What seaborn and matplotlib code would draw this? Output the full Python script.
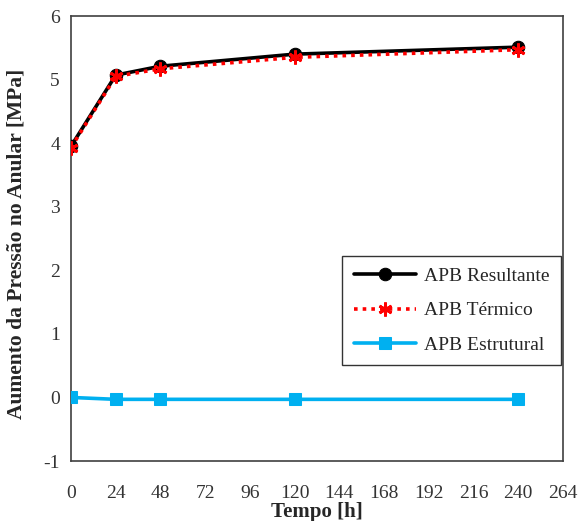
import matplotlib
matplotlib.use("Agg")
import matplotlib.pyplot as plt
import seaborn as sns
import pandas as pd

tempo = [0, 24, 48, 120, 240]
apb_resultante = [3.95, 5.07, 5.21, 5.40, 5.51]
apb_termico = [3.93, 5.05, 5.17, 5.35, 5.47]
apb_estrutural = [0.0, -0.03, -0.03, -0.03, -0.03]
x_ticks = [0, 24, 48, 72, 96, 120, 144, 168, 192, 216, 240, 264]
y_ticks = [-1, 0, 1, 2, 3, 4, 5, 6]

sns.set_theme(style="white")
plt.rcParams['font.family'] = ['Liberation Serif', 'DejaVu Serif']
plt.rcParams['axes.unicode_minus'] = False

fig = plt.figure(figsize=(5.82, 5.21), dpi=100)
ax = fig.add_axes([71/582, 1-461/521, (563-71)/582, (461-16)/521])

sns.lineplot(x=tempo, y=apb_resultante, ax=ax, color='black', lw=2.6,
             marker='o', markersize=9, markeredgecolor='black',
             label='APB Resultante', zorder=3)
sns.lineplot(x=tempo, y=apb_termico, ax=ax, color='red', lw=2.6,
             linestyle=(0, (1, 1.4)), marker=(6, 2, 0), markersize=10,
             markeredgecolor='red', markeredgewidth=2,
             label='APB Térmico', zorder=4)
sns.lineplot(x=tempo, y=apb_estrutural, ax=ax, color='#00B0F0', lw=2.6,
             marker='s', markersize=9, markeredgecolor='#00B0F0',
             label='APB Estrutural', zorder=3)

ax.set_xlim(0, 264)
ax.set_ylim(-1, 6)
ax.set_xticks(x_ticks)
ax.set_yticks(y_ticks)
ax.tick_params(axis='both', direction='in', length=5, width=1, colors='#404040',
               labelsize=14, labelcolor='#333333')
ax.tick_params(axis='y', pad=8)
ax.tick_params(axis='x', pad=17)
for s in ax.spines.values():
    s.set_color('#404040')
    s.set_linewidth(1.2)
ax.set_xlabel('Tempo [h]', fontsize=15, fontweight='bold', labelpad=0)
ax.set_ylabel('Aumento da Pressão no Anular [MPa]', fontsize=15.5, fontweight='bold')
ax.yaxis.set_label_coords((27 - 71) / 492, (461 - 244) / 445)
ax.grid(False)

leg = ax.legend(loc='upper left', bbox_to_anchor=((342-71)/492, (461-256)/445),
                borderaxespad=0,
                fontsize=14, frameon=True, fancybox=False, edgecolor='black',
                handlelength=3.2, borderpad=0.6, labelspacing=0.85, handletextpad=0.4)
leg.get_frame().set_linewidth(1.0)

fig.savefig('out.png', dpi=100)
